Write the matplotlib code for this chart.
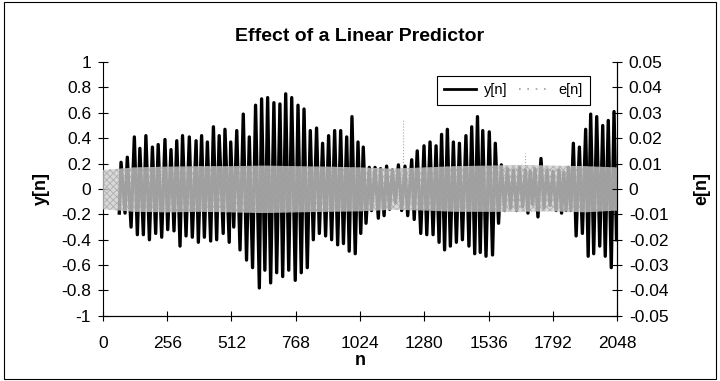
import numpy as np
import matplotlib
matplotlib.use('Agg')
import matplotlib.pyplot as plt
from matplotlib.lines import Line2D
from matplotlib.patches import Rectangle

plt.rcParams['font.family'] = ['Liberation Sans', 'DejaVu Sans']
plt.rcParams['hatch.linewidth'] = 0.6

# y[n] : positive peaks of each pitch period
pos_n = [72, 97, 125, 147, 171, 197, 220, 247, 271, 294, 317, 344, 371, 393, 416, 440, 463, 486,
         509, 533, 559, 583, 608, 632, 656, 681, 705, 728, 752, 777, 801, 826, 851, 875, 899, 923,
         947, 971, 992, 1016, 1037, 1061, 1084, 1106, 1130, 1153, 1177, 1203, 1230, 1252, 1279,
         1303, 1327, 1349, 1372, 1396, 1420, 1446, 1469, 1492, 1513, 1539, 1563, 1587, 1611, 1635,
         1659, 1683, 1702, 1721, 1745, 1769, 1793, 1817, 1836, 1854, 1874, 1898, 1923, 1943, 1967,
         1991, 2013, 2036]
pos_v = [0.21, 0.25, 0.41, 0.32, 0.42, 0.33, 0.35, 0.39, 0.31, 0.38, 0.42, 0.41, 0.38, 0.42, 0.37,
         0.49, 0.42, 0.47, 0.37, 0.46, 0.59, 0.41, 0.66, 0.71, 0.72, 0.68, 0.67, 0.75, 0.72, 0.66,
         0.63, 0.46, 0.48, 0.36, 0.42, 0.46, 0.46, 0.41, 0.57, 0.37, 0.33, 0.17, 0.17, 0.16, 0.18,
         0.15, 0.19, 0.18, 0.23, 0.30, 0.34, 0.37, 0.34, 0.43, 0.47, 0.37, 0.36, 0.42, 0.49, 0.57,
         0.46, 0.45, 0.36, 0.19, 0.16, 0.15, 0.17, 0.15, 0.14, 0.16, 0.24, 0.15, 0.14, 0.15, 0.13,
         0.17, 0.36, 0.33, 0.47, 0.59, 0.57, 0.50, 0.54, 0.61]

# y[n] : negative peaks
neg_n = [65, 88, 112, 137, 161, 185, 210, 234, 258, 283, 307, 331, 356, 380, 404, 429, 453, 479,
         503, 521, 546, 572, 596, 623, 645, 668, 692, 716, 740, 766, 790, 814, 838, 862, 887, 911,
         935, 958, 981, 1005, 1027, 1048, 1070, 1097, 1120, 1142, 1165, 1190, 1214, 1240, 1266,
         1290, 1315, 1339, 1361, 1384, 1408, 1432, 1458, 1481, 1503, 1526, 1552, 1576, 1600, 1624,
         1648, 1672, 1693, 1712, 1733, 1757, 1781, 1805, 1827, 1845, 1864, 1885, 1910, 1933, 1955,
         1979, 2001, 2025, 2046]
neg_v = [-0.19, -0.19, -0.30, -0.36, -0.36, -0.40, -0.35, -0.38, -0.32, -0.33, -0.45, -0.37, -0.38,
         -0.42, -0.38, -0.41, -0.40, -0.35, -0.42, -0.30, -0.48, -0.56, -0.62, -0.78, -0.64, -0.74,
         -0.66, -0.69, -0.64, -0.72, -0.66, -0.62, -0.40, -0.35, -0.37, -0.40, -0.44, -0.43, -0.49,
         -0.51, -0.35, -0.27, -0.17, -0.23, -0.21, -0.16, -0.11, -0.17, -0.21, -0.24, -0.35, -0.36,
         -0.36, -0.42, -0.48, -0.45, -0.42, -0.40, -0.45, -0.51, -0.50, -0.53, -0.52, -0.27, -0.17,
         -0.15, -0.17, -0.14, -0.19, -0.12, -0.22, -0.15, -0.13, -0.17, -0.19, -0.17, -0.17, -0.37,
         -0.35, -0.53, -0.51, -0.45, -0.53, -0.62, -0.40]

# e[n] : envelope of the prediction error band
e_n = [0, 128, 256, 384, 512, 640, 768, 896, 1024, 1152, 1280, 1408, 1536, 1664, 1792, 1920, 2048]
e_hi = [0.0075, 0.0085, 0.0088, 0.0090, 0.0090, 0.0092, 0.0090, 0.0088, 0.0085, 0.0080, 0.0085,
        0.0090, 0.0092, 0.0095, 0.0092, 0.0090, 0.0085]
e_lo = [-0.0080, -0.0090, -0.0092, -0.0090, -0.0092, -0.0095, -0.0092, -0.0090, -0.0088, -0.0082,
        -0.0085, -0.0090, -0.0090, -0.0090, -0.0088, -0.0092, -0.0085]
# isolated error spikes
spike_n = [1195, 1681]
spike_v = [0.027, 0.014]

n_all = np.array(pos_n + neg_n)
v_all = np.array(pos_v + neg_v)
order = np.argsort(n_all)
n_all = n_all[order]
v_all = v_all[order]

fig = plt.figure(figsize=(7.2, 3.81), dpi=100)
ax = fig.add_axes([0.143, 0.171, 0.714, 0.666])
ax.plot(n_all, v_all, color='black', lw=2.4)

ax2 = ax.twinx()
ax2.fill_between(e_n, e_lo, e_hi, facecolor='#cdcdcd', edgecolor='#a4a4a4', hatch='xxxxx',
                 lw=0, alpha=0.78)
ax2.vlines(spike_n, 0, spike_v, color='#a8a8a8', lw=0.8, linestyles=':')

ax.set_xlim(0, 2048)
ax.set_ylim(-1, 1)
ax2.set_ylim(-0.05, 0.05)
ax.set_xticks(np.arange(0, 2049, 256))
ax.set_yticks(np.arange(-1, 1.01, 0.2))
ax.set_yticklabels(['-1', '-0.8', '-0.6', '-0.4', '-0.2', '0', '0.2', '0.4', '0.6', '0.8', '1'])
ax2.set_yticks(np.arange(-0.05, 0.051, 0.01))
ax2.set_yticklabels(['-0.05', '-0.04', '-0.03', '-0.02', '-0.01', '0',
                     '0.01', '0.02', '0.03', '0.04', '0.05'])

for a in (ax, ax2):
    a.spines['top'].set_visible(False)
    a.tick_params(direction='inout', length=7, width=0.8, labelsize=12.5, pad=5)
ax.tick_params(axis='x', pad=11)
ax2.spines['left'].set_visible(False)

ax.set_xlabel('n', fontsize=13, fontweight='bold', labelpad=1)
ax.set_ylabel('y[n]', fontsize=13, fontweight='bold', labelpad=8)
ax2.set_ylabel('e[n]', fontsize=13, fontweight='bold', labelpad=18)
fig.text(0.5, 0.893, 'Effect of a Linear Predictor', ha='center', fontsize=14, fontweight='bold')

handles = [Line2D([], [], color='black', lw=2),
           Line2D([], [], color='#a0a0a0', lw=1.2, linestyle=(0, (1, 4)))]
leg = ax2.legend(handles, ['y[n]', 'e[n]'], ncol=2, loc='upper left', bbox_to_anchor=(0.65, 0.945),
                 fontsize=10.5, frameon=True, fancybox=False, edgecolor='black', framealpha=1,
                 handlelength=2.2, handletextpad=0.5, columnspacing=0.8, borderpad=0.5,
                 borderaxespad=0)
leg.get_frame().set_linewidth(0.8)

fig.patches.append(Rectangle((0.006, 0.005), 0.988, 0.99, transform=fig.transFigure,
                             fill=False, edgecolor='black', lw=0.8))

fig.savefig('out.png', dpi=100)
